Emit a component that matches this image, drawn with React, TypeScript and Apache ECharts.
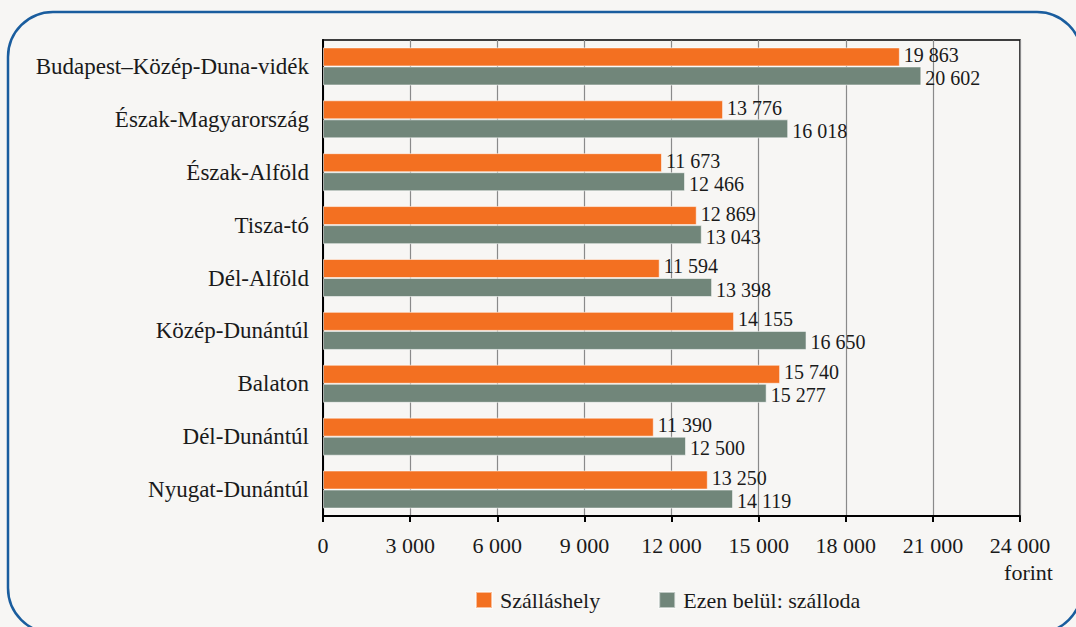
import React, { useEffect, useRef } from "react";
import * as echarts from "echarts";

const categories = [
  "Budapest–Közép-Duna-vidék",
  "Észak-Magyarország",
  "Észak-Alföld",
  "Tisza-tó",
  "Dél-Alföld",
  "Közép-Dunántúl",
  "Balaton",
  "Dél-Dunántúl",
  "Nyugat-Dunántúl",
];
const szallashely = [19863, 13776, 11673, 12869, 11594, 14155, 15740, 11390, 13250];
const szalloda = [20602, 16018, 12466, 13043, 13398, 16650, 15277, 12500, 14119];
const seriesNames = ["Szálláshely", "Ezen belül: szálloda"];
const unitLabel = "forint";

const FONT = "'Liberation Serif', 'DejaVu Serif', serif";
const fmt = (v: number) => {
  const s = Math.round(v).toString();
  return s.replace(/\B(?=(\d{3})+(?!\d))/g, " ");
};

export default function App() {
  const ref = useRef<HTMLDivElement>(null);
  useEffect(() => {
    if (!ref.current) return;
    const chart = echarts.init(ref.current, null, { renderer: "svg" });
    const labelCfg = (dy: number) => ({
      show: true,
      position: "right" as const,
      distance: 4,
      offset: [0, dy],
      fontFamily: FONT,
      fontSize: 20,
      lineHeight: 18,
      color: "#1a1a1a",
      formatter: (p: any) => fmt(p.value),
    });
    chart.setOption({
      animation: false,
      backgroundColor: "#f7f6f4",
      textStyle: { fontFamily: FONT },
      graphic: [
        {
          type: "rect",
          shape: { x: 8, y: 12, width: 1074, height: 621, r: 45 },
          style: { fill: "none", stroke: "#1a5d9e", lineWidth: 2.5 },
          z: -1,
          silent: true,
        },
        {
          type: "text",
          x: 1053,
          y: 572,
          style: {
            text: unitLabel,
            fontFamily: FONT,
            fontSize: 22,
            fill: "#1a1a1a",
            align: "right",
            verticalAlign: "middle",
          },
        },
      ],
      grid: {
        left: 323,
        right: 56,
        top: 40,
        bottom: 111,
        show: true,
        borderColor: "#000",
        borderWidth: 1.5,
        backgroundColor: "transparent",
      },
      legend: {
        left: 470,
        top: 584,
        itemWidth: 16,
        itemHeight: 16,
        itemGap: 58,
        icon: "rect",
        textStyle: {
          fontFamily: FONT,
          fontSize: 22,
          color: "#1a1a1a",
          padding: [0, 0, 0, 3],
        },
        data: seriesNames,
      },
      xAxis: {
        type: "value",
        min: 0,
        max: 24000,
        interval: 3000,
        axisLine: { show: true, lineStyle: { color: "#000", width: 2 } },
        axisTick: { show: true, length: 6, lineStyle: { color: "#000", width: 2 } },
        splitLine: { show: true, lineStyle: { color: "#8a8a8a", width: 1.2 } },
        axisLabel: {
          fontFamily: FONT,
          fontSize: 22,
          color: "#1a1a1a",
          margin: 18,
          formatter: (v: number) => fmt(v),
        },
      },
      yAxis: {
        type: "category",
        data: categories,
        inverse: true,
        axisLine: { show: true, lineStyle: { color: "#000", width: 2 } },
        axisTick: { show: false },
        axisLabel: {
          fontFamily: FONT,
          fontSize: 23,
          color: "#1a1a1a",
          margin: 14,
        },
      },
      series: [
        {
          name: seriesNames[0],
          type: "bar",
          data: szallashely,
          barGap: "0%",
          barCategoryGap: "28%",
          itemStyle: { color: "#f37021", borderColor: "rgba(255,255,255,0.55)", borderWidth: 1 },
          label: labelCfg(-2),
        },
        {
          name: seriesNames[1],
          type: "bar",
          data: szalloda,
          barGap: "0%",
          barCategoryGap: "28%",
          itemStyle: { color: "#71867a", borderColor: "rgba(255,255,255,0.55)", borderWidth: 1 },
          label: labelCfg(2),
        },
      ],
    });
    return () => chart.dispose();
  }, []);
  return (
    <div
      ref={ref}
      style={{ position: "absolute", left: 0, top: 0, width: 1076, height: 627 }}
    />
  );
}
